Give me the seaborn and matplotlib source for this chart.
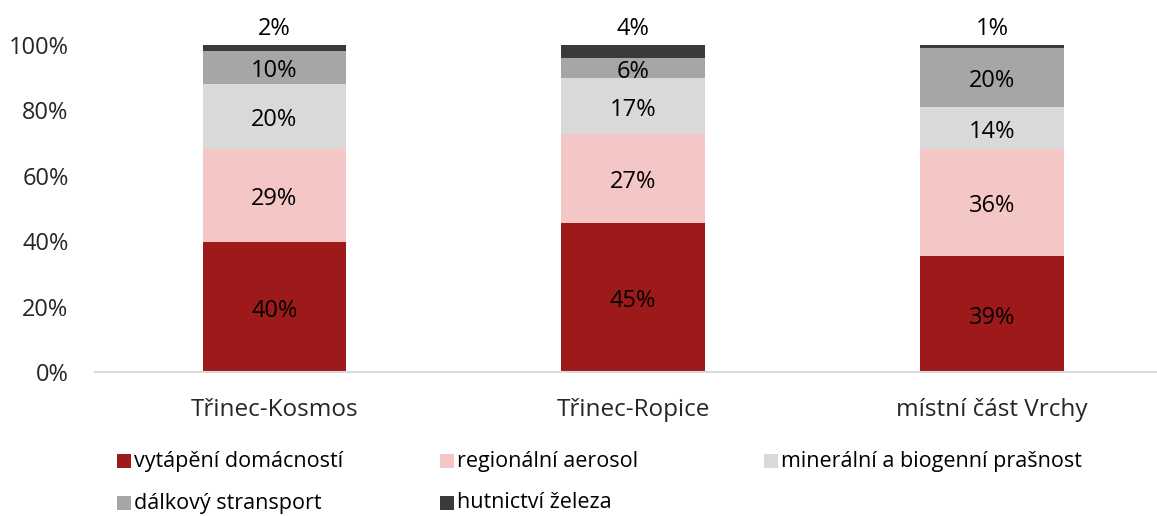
import numpy as np
import pandas as pd
import matplotlib
matplotlib.use("Agg")
import matplotlib.pyplot as plt
import seaborn as sns
from matplotlib.patches import Rectangle

sns.set_style("white")
plt.rcParams['font.family'] = ['Open Sans', 'DejaVu Sans']

# raw shares from the chart (100% stacked, each bar normalised to its sum)
sites = ['Třinec-Kosmos', 'Třinec-Ropice', 'místní část Vrchy']
sources = ['vytápění domácností', 'regionální aerosol', 'minerální a biogenní prašnost',
           'dálkový stransport', 'hutnictví železa']
heating = [40, 45, 39]
regional = [29, 27, 36]
mineral = [20, 17, 14]
longrange = [10, 6, 20]
steel = [2, 4, 1]
colors = ['#9E1A1A', '#F5C6C6', '#D9D9D9', '#A6A6A6', '#3A3A3A']

vals = np.array([heating, regional, mineral, longrange, steel], dtype=float)
share = vals / vals.sum(axis=0)
cum = np.cumsum(share, axis=0)

fig = plt.figure(figsize=(11.57, 5.16), dpi=100)
ax = fig.add_axes([95 / 1157, 144 / 516, 1 - 95 / 1157, 327 / 516])

# draw cumulative bars from the top down so each one covers the previous
for i in range(len(sources) - 1, -1, -1):
    df = pd.DataFrame({'site': sites, 'v': cum[i]})
    sns.barplot(data=df, x='site', y='v', color=colors[i], width=0.4,
                saturation=1, linewidth=0, ax=ax)

# segment labels
for j in range(len(sites)):
    for i in range(len(sources)):
        lo = cum[i - 1][j] if i > 0 else 0
        if i == len(sources) - 1:
            ax.annotate(f'{int(vals[i][j])}%', (j, 1.0), xytext=(0, 3),
                        textcoords='offset points', ha='center', va='bottom',
                        fontsize=17, color='black', annotation_clip=False)
        else:
            ax.annotate(f'{int(vals[i][j])}%', (j, lo + share[i][j] / 2), xytext=(0, -2.5),
                        textcoords='offset points', ha='center', va='center',
                        fontsize=17, color='black')

ax.set_xlim(-0.5, 2.46)
ax.set_ylim(0, 1)
ax.set_yticks(np.arange(0, 1.01, 0.2))
ax.set_yticklabels([f'{int(round(t * 100))}%' for t in np.arange(0, 1.01, 0.2)])
ax.set_xlabel('')
ax.set_ylabel('')
ax.tick_params(axis='y', length=0, pad=19, labelsize=17)
ax.tick_params(axis='x', length=0, pad=19, labelsize=17.5)
for s in ['top', 'right', 'left']:
    ax.spines[s].set_visible(False)
ax.spines['bottom'].set_color('#D9D9D9')
ax.spines['bottom'].set_linewidth(1.5)

# legend laid out in fixed columns like the original
col_x = [117, 440, 764]
row_y = [461, 503]
for i, name in enumerate(sources):
    x = col_x[i % 3]
    y = row_y[i // 3]
    fig.patches.append(Rectangle((x / 1157, (516 - y - 7) / 516), 14 / 1157, 14 / 516,
                                 transform=fig.transFigure, facecolor=colors[i],
                                 edgecolor='none'))
    fig.text((x + 17) / 1157, (516 - y) / 516, name, ha='left', va='center',
             fontsize=15.5, color='black')

fig.savefig('out.png', dpi=100)
